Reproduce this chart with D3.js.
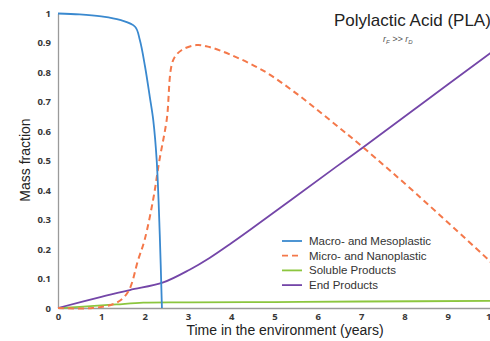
<!DOCTYPE html>
<html>
<head>
<meta charset="utf-8">
<script src="https://cdn.jsdelivr.net/npm/d3@7"></script>
<style>
  body { margin: 0; background: #fff; overflow: hidden; }
  svg { display: block; }
</style>
</head>
<body>
<div id="chart"></div>
<script>
// Data
const seriesNames = ["Macro- and Mesoplastic", "Micro- and Nanoplastic", "Soluble Products", "End Products"];
const seriesColors = ["#3a89cf", "#f4784a", "#8cc63f", "#7446a8"];

const macroX = [0, 0.5, 1, 1.43, 1.78, 1.89, 2.01, 2.12, 2.2, 2.28, 2.35, 2.4];
const macroY = [1, 0.997, 0.99, 0.978, 0.955, 0.91, 0.82, 0.717, 0.638, 0.5, 0.25, 0];

const microX = [0, 0.8, 1.35, 1.62, 1.85, 2.0, 2.2, 2.34, 2.51, 2.66, 2.86, 3.2, 3.5, 3.97, 4.74, 5.51, 6.28, 7.05, 8.28, 9.93, 10];
const microY = [0, 0, 0.018, 0.055, 0.163, 0.231, 0.37, 0.5, 0.638, 0.842, 0.876, 0.893, 0.886, 0.861, 0.806, 0.728, 0.638, 0.545, 0.387, 0.165, 0.155];

const solubleX = [0, 0.5, 1, 1.35, 1.97, 3.05, 5, 7, 10];
const solubleY = [0, 0.004, 0.009, 0.012, 0.018, 0.019, 0.02, 0.022, 0.024];

const endX = [0, 1, 1.66, 2.43, 3.05, 3.5, 4.0, 4.43, 6.43, 7.05, 8.28, 10];
const endY = [0, 0.038, 0.061, 0.087, 0.131, 0.17, 0.22, 0.265, 0.48, 0.546, 0.68, 0.867];

const xTicks = [0, 1, 2, 3, 4, 5, 6, 7, 8, 9, 10];
const yTicks = [0, 0.1, 0.2, 0.3, 0.4, 0.5, 0.6, 0.7, 0.8, 0.9, 1];

const width = 490, height = 341;
const margin = { top: 13.5, right: -1, bottom: 33, left: 58 };

const svg = d3.select("#chart")
    .append("svg")
    .attr("width", width)
    .attr("height", height);

const x = d3.scaleLinear().domain([0, 10]).range([margin.left, width - margin.right]);
const y = d3.scaleLinear().domain([0, 1]).range([height - margin.bottom, margin.top]);

const tickFont = "'Open Sans', sans-serif";
const textFont = "'Liberation Sans', Arial, sans-serif";

// axes (no tick marks, grey domain line)
const xAxis = svg.append("g")
    .attr("transform", `translate(0,${y(0)})`)
    .call(d3.axisBottom(x).tickValues(xTicks).tickSize(0).tickPadding(5).tickFormat(d3.format("d")));
const yAxis = svg.append("g")
    .attr("transform", `translate(${x(0)},0)`)
    .call(d3.axisLeft(y).tickValues(yTicks).tickSize(0).tickPadding(7).tickFormat(d => d === 0 || d === 1 ? d : d.toFixed(1)));

[xAxis, yAxis].forEach(g => {
    g.select(".domain").attr("stroke", "#9a9a9a").attr("stroke-width", 1.3);
    g.selectAll("text")
        .attr("fill", "#383838")
        .style("font-family", tickFont)
        .style("font-weight", 700)
        .style("font-size", "9.5px");
});

// series
const line = d3.line()
    .x(d => x(d[0]))
    .y(d => y(d[1]))
    .curve(d3.curveCatmullRom.alpha(0.5));

const zip = (xs, ys) => xs.map((v, i) => [v, ys[i]]);
const series = [
    zip(solubleX, solubleY),
    zip(endX, endY),
    zip(microX, microY),
    zip(macroX, macroY)
];
const seriesIdx = [2, 3, 1, 0];

series.forEach((pts, i) => {
    const k = seriesIdx[i];
    svg.append("path")
        .datum(pts)
        .attr("fill", "none")
        .attr("stroke", seriesColors[k])
        .attr("stroke-width", k === 1 ? 2 : 1.8)
        .attr("stroke-dasharray", k === 1 ? "6,4" : null)
        .attr("d", line);
});

// axis titles
svg.append("text")
    .attr("x", 285)
    .attr("y", 335)
    .attr("text-anchor", "middle")
    .style("font-family", textFont)
    .style("font-size", "14px")
    .attr("fill", "#222")
    .text("Time in the environment (years)");

svg.append("text")
    .attr("transform", "translate(30,160) rotate(-90)")
    .attr("text-anchor", "middle")
    .style("font-family", textFont)
    .style("font-size", "14px")
    .attr("fill", "#222")
    .text("Mass fraction");

// title
svg.append("text")
    .attr("x", 334)
    .attr("y", 26)
    .style("font-family", textFont)
    .style("font-size", "17px")
    .attr("fill", "#222")
    .text("Polylactic Acid (PLA)");

const sub = svg.append("text")
    .attr("x", 383)
    .attr("y", 42)
    .style("font-family", textFont)
    .style("font-size", "9px")
    .style("font-style", "italic")
    .attr("fill", "#555");
sub.append("tspan").text("r");
sub.append("tspan").attr("dy", 1.5).style("font-size", "6px").text("F");
sub.append("tspan").attr("dy", -1.5).text(" >> ");
sub.append("tspan").text("r");
sub.append("tspan").attr("dy", 1.5).style("font-size", "6px").text("D");

// legend
const legend = svg.append("g");
seriesNames.forEach((name, i) => {
    const ly = 241 + i * 14.7;
    legend.append("line")
        .attr("x1", 282).attr("x2", 302)
        .attr("y1", ly).attr("y2", ly)
        .attr("stroke", seriesColors[i])
        .attr("stroke-width", 1.8)
        .attr("stroke-dasharray", i === 1 ? "6,4" : null);
    legend.append("text")
        .attr("x", 309)
        .attr("y", ly + 4)
        .style("font-family", textFont)
        .style("font-size", "11.5px")
        .attr("fill", "#333")
        .text(name);
});
</script>
</body>
</html>
